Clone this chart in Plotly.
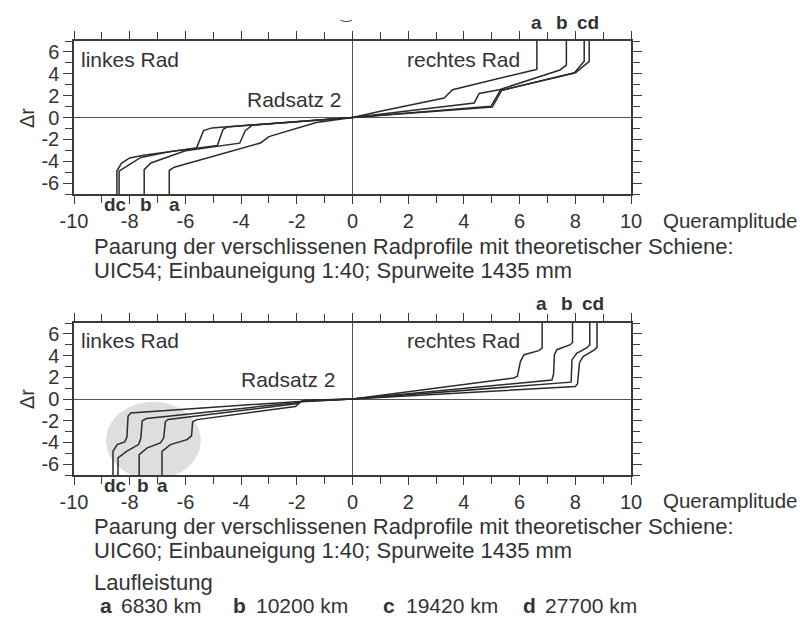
import plotly.graph_objects as go

# ---------------- data ----------------
series_names = ["a", "b", "c", "d"]
laufleistung_labels = ["6830 km", "10200 km", "19420 km", "27700 km"]

x_ticks = [-10, -8, -6, -4, -2, 0, 2, 4, 6, 8, 10]
y_ticks = [-6, -4, -2, 0, 2, 4, 6]

# Panel 1: UIC54
uic54_a_x = [-6.58, -6.58, -6.4, -3.3, -3.0, -1.3, 0, 1.0, 3.29, 3.59, 6.45, 6.62, 6.62]
uic54_a_y = [-7, -4.85, -4.55, -2.33, -1.75, -0.45, 0, 0.57, 1.78, 2.54, 4.3, 4.4, 7]
uic54_b_x = [-7.48, -7.48, -7.24, -6.0, -4.05, -3.85, -3.6, 0, 4.37, 4.55, 5.27, 7.45, 7.68, 7.68]
uic54_b_y = [-7, -4.77, -4.16, -3.05, -2.35, -1.2, -0.7, 0, 1.33, 2.2, 2.54, 4.35, 4.8, 7]
uic54_c_x = [-8.38, -8.38, -8.2, -7.6, -6.5, -4.85, -4.65, -4.5, 0, 4.97, 5.3, 7.96, 8.32, 8.32]
uic54_c_y = [-7, -4.9, -4.6, -3.65, -3.1, -2.55, -1.1, -0.86, 0, 1.02, 2.45, 4.07, 5.14, 7]
uic54_d_x = [-8.46, -8.46, -8.3, -8.0, -7.5, -5.6, -5.35, -5.05, 0, 5.02, 5.36, 8.02, 8.5, 8.5]
uic54_d_y = [-7, -4.9, -4.2, -3.7, -3.45, -2.8, -1.2, -0.95, 0, 0.95, 2.5, 4.12, 5.14, 7]

# Panel 2: UIC60
uic60_a_x = [-6.84, -6.84, -6.54, -5.94, -5.78, -5.74, -5.58, -2.05, -1.85, 0, 5.79, 5.92, 6.03, 6.16, 6.69, 6.81, 6.81]
uic60_a_y = [-7, -4.82, -4.2, -3.74, -3.4, -2.1, -1.9, -0.7, -0.25, 0, 1.93, 2.09, 3.47, 4.08, 4.45, 4.69, 7]
uic60_b_x = [-7.66, -7.66, -7.37, -6.9, -6.78, -6.72, -6.62, -3.2, -1.95, -1.78, 0, 7.16, 7.22, 7.25, 7.34, 7.82, 7.9, 7.9]
uic60_b_y = [-7, -5.12, -4.5, -4.05, -3.6, -2.1, -1.88, -0.8, -0.42, -0.15, 0, 1.75, 2.3, 4.08, 4.54, 5.0, 5.2, 7]
uic60_c_x = [-8.42, -8.42, -8.1, -7.68, -7.6, -7.55, -7.4, -3.5, -1.9, -1.75, 0, 7.85, 7.88, 8.05, 8.42, 8.52, 8.52]
uic60_c_y = [-7, -5.43, -4.8, -4.2, -3.6, -2.0, -1.8, -0.75, -0.3, -0.12, 0, 1.55, 3.6, 4.2, 4.72, 5.0, 7]
uic60_d_x = [-8.6, -8.6, -8.45, -8.18, -8.1, -8.06, -7.96, -1.9, 0, 8.0, 8.08, 8.15, 8.28, 8.7, 8.78, 8.78]
uic60_d_y = [-7, -4.82, -4.2, -3.96, -3.5, -1.6, -1.28, -0.22, 0, 1.15, 1.4, 3.35, 3.9, 4.55, 4.8, 7]

panel1 = [(uic54_a_x, uic54_a_y), (uic54_b_x, uic54_b_y), (uic54_c_x, uic54_c_y), (uic54_d_x, uic54_d_y)]
panel2 = [(uic60_a_x, uic60_a_y), (uic60_b_x, uic60_b_y), (uic60_c_x, uic60_c_y), (uic60_d_x, uic60_d_y)]

# ---------------- figure ----------------
W, H = 812, 619
def px(x):
    return x / W
def py(y):
    return 1 - y / H

LINE = "#2b2b2b"
AX = "#3a3a3a"
TXT = "#333333"
SANS = "Liberation Sans, Arial, sans-serif"

fig = go.Figure()
for (xs, ys), name in zip(panel1, series_names):
    fig.add_trace(go.Scatter(x=xs, y=ys, mode="lines", name=name,
                             line=dict(color=LINE, width=1.5), xaxis="x", yaxis="y",
                             showlegend=False, hoverinfo="skip"))
for (xs, ys), name in zip(panel2, series_names):
    fig.add_trace(go.Scatter(x=xs, y=ys, mode="lines", name=name,
                             line=dict(color=LINE, width=1.5), xaxis="x2", yaxis="y2",
                             showlegend=False, hoverinfo="skip"))

def xaxis(domain, anchor):
    return dict(domain=domain, anchor=anchor, range=[-10, 10], tickvals=x_ticks,
                ticktext=[str(v) for v in x_ticks],
                showline=True, linecolor=AX, linewidth=1.5, mirror="allticks",
                ticks="outside", ticklen=8, tickwidth=1, tickcolor=AX,
                minor=dict(dtick=1, tick0=0, ticks="outside", ticklen=7, tickcolor=AX, tickwidth=1),
                showgrid=False, zeroline=True, zerolinecolor="#555555", zerolinewidth=1,
                tickfont=dict(family=SANS, size=20, color=TXT), automargin=False,
                fixedrange=True)

def yaxis(domain, anchor):
    return dict(domain=domain, anchor=anchor, range=[-7, 7], tickvals=y_ticks,
                ticktext=[str(v) for v in y_ticks],
                showline=True, linecolor=AX, linewidth=1.5, mirror="allticks",
                ticks="outside", ticklen=9, tickwidth=1, tickcolor=AX,
                minor=dict(dtick=1, tick0=0, ticks="outside", ticklen=7, tickcolor=AX, tickwidth=1),
                showgrid=False, zeroline=True, zerolinecolor="#555555", zerolinewidth=1,
                tickfont=dict(family=SANS, size=20, color=TXT), automargin=False,
                fixedrange=True)

xd = [px(66), px(623)]
fig.update_layout(
    width=W, height=H, margin=dict(l=0, r=0, t=0, b=0),
    paper_bgcolor="white", plot_bgcolor="white",
    xaxis=xaxis(xd, "y"), yaxis=yaxis([py(186), py(33)], "x"),
    xaxis2=xaxis(xd, "y2"), yaxis2=yaxis([py(467), py(315)], "x2"),
    showlegend=False,
)

# grey highlight circle in lower panel
fig.add_shape(type="circle", xref="x2", yref="y2", x0=-8.85, x1=-5.45, y0=-7.4, y1=-0.25,
              fillcolor="#dedede", line=dict(width=0), layer="below")

ann = []
def txt(x, y, s, size=19, family=SANS, xanchor="left", bold=False, yanchor="middle"):
    ann.append(dict(x=px(x), y=py(y), xref="paper", yref="paper", text=("<b>%s</b>" % s) if bold else s,
                    showarrow=False, xanchor=xanchor, yanchor=yanchor,
                    font=dict(family=family, size=size, color=TXT)))

# small glyph remnant at the top edge
txt(338, 6, "‿", size=13, family="DejaVu Sans, sans-serif", xanchor="center")

# y axis titles
for yc in (110, 391):
    ann.append(dict(x=px(19), y=py(yc), xref="paper", yref="paper", text="Δr", textangle=-90,
                    showarrow=False, xanchor="center", yanchor="middle",
                    font=dict(family=SANS, size=20, color=TXT)))

# panel texts
for off in (0, 281):
    txt(71, 52 + off, "linkes Rad", size=21)
    txt(397, 51 + off, "rechtes Rad", size=21)
    txt(653, 212 + off, "Queramplitude", size=20.5)
txt(237, 91, "Radsatz 2", size=21)
txt(231, 371, "Radsatz 2", size=21)

# curve letters
LBL = dict(size=19, bold=True, xanchor="center")
txt(528, 15, "a", **LBL); txt(554, 15, "b", **LBL); txt(580, 15, "cd", **LBL)
txt(107, 196, "dc", **LBL); txt(138, 196, "b", **LBL); txt(166, 196, "a", **LBL)
txt(533, 295, "a", **LBL); txt(559, 295, "b", **LBL); txt(585, 295, "cd", **LBL)
txt(107, 477, "dc", **LBL); txt(135, 477, "b", **LBL); txt(154, 477, "a", **LBL)

# captions
cap1 = "Paarung der verschlissenen Radprofile mit theoretischer Schiene:"
CAP = 22
txt(84, 238, cap1, size=CAP)
txt(84, 262, "UIC54; Einbauneigung 1:40; Spurweite 1435 mm", size=CAP)
txt(84, 518, cap1, size=CAP)
txt(84, 542, "UIC60; Einbauneigung 1:40; Spurweite 1435 mm", size=CAP)
txt(84, 574, "Laufleistung", size=CAP)

LEG = 21
letter_x = [90, 223, 373, 513]
label_x = [111, 246, 396, 535]
for lx, tx, letter, lab in zip(letter_x, label_x, series_names, laufleistung_labels):
    txt(lx, 597, letter, size=LEG, bold=True)
    txt(tx, 597, lab, size=LEG)

fig.update_layout(annotations=ann)
fig.write_html("out.html")
